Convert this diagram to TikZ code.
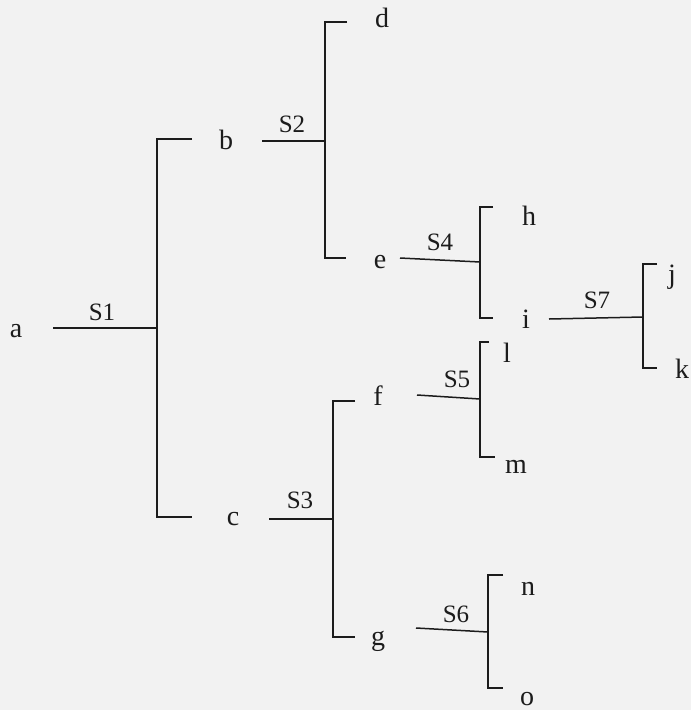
\documentclass[tikz,border=0pt]{standalone}
\usepackage{fontspec}
\setmainfont{Liberation Serif}
\definecolor{bg}{RGB}{242,242,242}
\definecolor{ink}{RGB}{28,28,28}
\begin{document}
\begin{tikzpicture}[x=1pt,y=-1pt,
  leaf/.style={anchor=base,inner sep=0pt,font=\fontsize{28}{28}\selectfont,text=ink},
  slab/.style={anchor=base,inner sep=0pt,font=\fontsize{25}{25}\selectfont,text=ink},
  br/.style={draw=ink,line width=1.5pt,line cap=butt,line join=miter}]
\fill[bg] (0,0) rectangle (691,710);
\useasboundingbox (0,0) rectangle (691,710);

% leaf / node letters
\node[leaf] (a) at (16,337) {a};
\node[leaf] (b) at (226,149) {b};
\node[leaf] (c) at (233,525) {c};
\node[leaf] (d) at (382,27) {d};
\node[leaf] (e) at (380,268) {e};
\node[leaf] (f) at (378,405) {f};
\node[leaf] (g) at (378,645) {g};
\node[leaf] (h) at (529,225) {h};
\node[leaf] (i) at (526,328) {i};
\node[leaf] (j) at (672,283) {j};
\node[leaf] (k) at (682,378) {k};
\node[leaf] (l) at (507,362) {l};
\node[leaf] (m) at (516,473) {m};
\node[leaf] (n) at (528,595) {n};
\node[leaf] (o) at (527,705) {o};

% split labels
\node[slab] (S1) at (102,320) {S1};
\node[slab] (S2) at (292,132) {S2};
\node[slab] (S3) at (300,508) {S3};
\node[slab] (S4) at (440,250) {S4};
\node[slab] (S5) at (457,387) {S5};
\node[slab] (S6) at (456,622) {S6};
\node[slab] (S7) at (597,308) {S7};

% connector points
\coordinate (s1in) at (53,328);  \coordinate (s1j) at (157,328);
\coordinate (s1t) at (157,139);  \coordinate (s1b) at (157,517);
\coordinate (s1tb) at (192,139); \coordinate (s1bb) at (192,517);

\coordinate (s2in) at (262,141); \coordinate (s2j) at (325,141);
\coordinate (s2t) at (325,22);   \coordinate (s2b) at (325,258);
\coordinate (s2tb) at (347,22);  \coordinate (s2bb) at (346,258);

\coordinate (s3in) at (269,519); \coordinate (s3j) at (333,519);
\coordinate (s3t) at (333,401);  \coordinate (s3b) at (333,637);
\coordinate (s3tb) at (355,401); \coordinate (s3bb) at (355,637);

\coordinate (s4in) at (400,258); \coordinate (s4j) at (480,262);
\coordinate (s4t) at (480,207);  \coordinate (s4b) at (480,318);
\coordinate (s4tb) at (493,207); \coordinate (s4bb) at (493,318);

\coordinate (s5in) at (417,395); \coordinate (s5j) at (480,399);
\coordinate (s5t) at (480,342);  \coordinate (s5b) at (480,457);
\coordinate (s5tb) at (489,342); \coordinate (s5bb) at (495,457);

\coordinate (s6in) at (416,628); \coordinate (s6j) at (488,632);
\coordinate (s6t) at (488,575);  \coordinate (s6b) at (488,688);
\coordinate (s6tb) at (503,575); \coordinate (s6bb) at (503,688);

\coordinate (s7in) at (549,319); \coordinate (s7j) at (643,317);
\coordinate (s7t) at (643,264);  \coordinate (s7b) at (643,368);
\coordinate (s7tb) at (657,264); \coordinate (s7bb) at (657,368);

% connectors
\foreach \s in {s1,s2,s3,s4,s5,s6,s7}{
  \draw[br] (\s in) -- (\s j);
  \draw[br] (\s tb) -- (\s t) -- (\s b) -- (\s bb);
}
\end{tikzpicture}
\end{document}
